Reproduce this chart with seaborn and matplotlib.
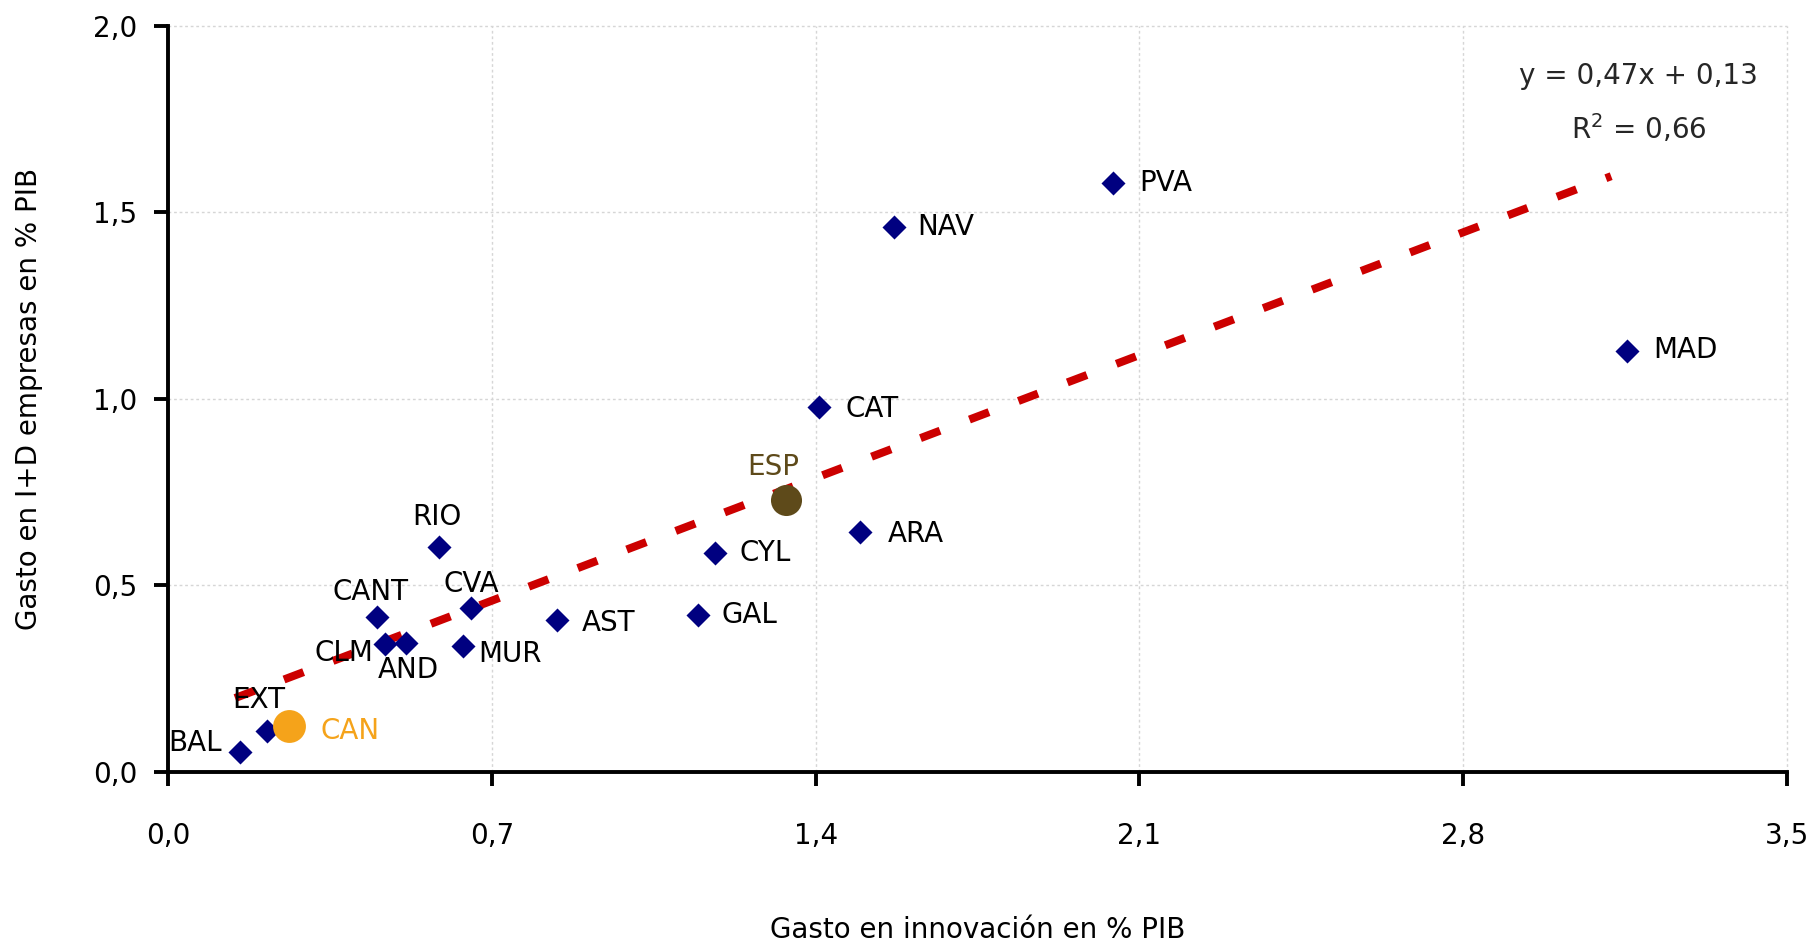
import matplotlib
matplotlib.use("Agg")
import matplotlib.pyplot as plt
import seaborn as sns
import numpy as np
import pandas as pd

# ---- data ----
regions = ["BAL", "EXT", "CANT", "CLM", "AND", "RIO", "CVA", "MUR", "AST",
           "GAL", "CYL", "CAT", "ARA", "NAV", "PVA", "MAD"]
innov = [0.156, 0.215, 0.451, 0.469, 0.514, 0.585, 0.655, 0.638, 0.842,
         1.145, 1.182, 1.407, 1.497, 1.569, 2.042, 3.155]
idemp = [0.054, 0.111, 0.416, 0.342, 0.347, 0.602, 0.440, 0.338, 0.407,
         0.421, 0.587, 0.978, 0.644, 1.460, 1.578, 1.128]

can_label = ["CAN"]
can_x = [0.262]
can_y = [0.124]

esp_label = ["ESP"]
esp_x = [1.336]
esp_y = [0.729]

trend_slope = 0.47
trend_intercept = 0.13
trend_x_range = [0.145, 3.12]
eq_lines = ["y = 0,47x + 0,13", r"R$^{2}$ = 0,66"]

x_ticks = [0.0, 0.7, 1.4, 2.1, 2.8, 3.5]
x_ticklabels = ["0,0", "0,7", "1,4", "2,1", "2,8", "3,5"]
y_ticks = [0.0, 0.5, 1.0, 1.5, 2.0]
y_ticklabels = ["0,0", "0,5", "1,0", "1,5", "2,0"]

x_title = "Gasto en innovación en % PIB"
y_title = "Gasto en I+D empresas en % PIB"

# label offsets in pixels (dx, dy up), horizontal alignment
label_style = {
    "BAL": (-18, 9, "right"), "EXT": (-9, 31, "center"), "CANT": (-6, 25, "center"),
    "CLM": (-12, -9, "right"), "AND": (3, -27, "center"), "RIO": (-2, 30, "center"),
    "CVA": (0, 24, "center"), "MUR": (15, -8, "left"), "AST": (24, -3, "left"),
    "GAL": (24, 0, "left"), "CYL": (25, 0, "left"), "CAT": (27, -2, "left"),
    "ARA": (27, -2, "left"), "NAV": (24, 0, "left"), "PVA": (27, 0, "left"),
    "MAD": (26, 1, "left"), "CAN": (31, -5, "left"), "ESP": (-13, 33, "center"),
}

# ---- styling ----
sns.set_theme(style="white")
plt.rcParams["font.family"] = ["DejaVu Sans"]

NAVY = "#000080"
ORANGE = "#F5A31A"
BROWN = "#5E4A1A"
RED = "#CC0000"
FS = 20

fig = plt.figure(figsize=(18.16, 9.46), dpi=100)
ax = fig.add_axes([0.0925, 0.1839, 0.8915, 0.7891])

df = pd.DataFrame({"x": innov, "y": idemp, "region": regions})

# trend line
tx = np.array(trend_x_range)
ty = trend_slope * tx + trend_intercept
sns.lineplot(x=tx, y=ty, ax=ax, color=RED, linewidth=5.8,
             linestyle=(0, (2.6, 3.9)), zorder=2)
ax.lines[-1].set_dash_capstyle("butt")

sns.scatterplot(data=df, x="x", y="y", ax=ax, marker="D", s=150,
                color=NAVY, linewidth=0, zorder=3)
sns.scatterplot(x=can_x, y=can_y, ax=ax, marker="o", s=560,
                color=ORANGE, linewidth=0, zorder=3)
sns.scatterplot(x=esp_x, y=esp_y, ax=ax, marker="o", s=500,
                color=BROWN, linewidth=0, zorder=3)

for name, x, y in zip(regions, innov, idemp):
    dx, dy, ha = label_style[name]
    ax.annotate(name, (x, y), xytext=(dx, dy), textcoords="offset pixels",
                ha=ha, va="center", fontsize=FS, color="black", zorder=4)
for name, x, y in zip(can_label, can_x, can_y):
    dx, dy, ha = label_style[name]
    ax.annotate(name, (x, y), xytext=(dx, dy), textcoords="offset pixels",
                ha=ha, va="center", fontsize=FS, color=ORANGE, zorder=4)
for name, x, y in zip(esp_label, esp_x, esp_y):
    dx, dy, ha = label_style[name]
    ax.annotate(name, (x, y), xytext=(dx, dy), textcoords="offset pixels",
                ha=ha, va="center", fontsize=FS, color=BROWN, zorder=4)

# equation
ax.text(3.18, 1.865, eq_lines[0], ha="center", va="center", fontsize=FS)
ax.text(3.18, 1.724, eq_lines[1], ha="center", va="center", fontsize=FS)

# axes
ax.set_xlim(0, 3.5)
ax.set_ylim(0, 2.0)
ax.set_xticks(x_ticks)
ax.set_xticklabels(x_ticklabels)
ax.set_yticks(y_ticks)
ax.set_yticklabels(y_ticklabels)
ax.tick_params(axis="both", direction="out", length=10, width=2.8,
               color="black", labelsize=FS, labelcolor="black")
ax.tick_params(axis="x", pad=26)
ax.tick_params(axis="y", pad=12)
ax.xaxis.set_ticks_position("bottom")
ax.yaxis.set_ticks_position("left")

ax.grid(True, color="#D6D6D6", linestyle=(0, (2, 2)), linewidth=1.0)
ax.set_axisbelow(True)
for gl in ax.get_xgridlines() + ax.get_ygridlines():
    gl.set_clip_on(False)

for side in ["top", "right"]:
    ax.spines[side].set_visible(False)
for side in ["left", "bottom"]:
    ax.spines[side].set_visible(True)
    ax.spines[side].set_color("black")
    ax.spines[side].set_linewidth(2.8)

ax.set_xlabel(x_title, fontsize=FS, color="black")
ax.set_ylabel(y_title, fontsize=FS, color="black")
ax.xaxis.label.set_va("center")
ax.xaxis.set_label_coords(0.5, -0.212)
ax.yaxis.label.set_va("center")
ax.yaxis.set_label_coords(-0.0859, 0.5)

fig.savefig("out.png", dpi=100, facecolor="white")
